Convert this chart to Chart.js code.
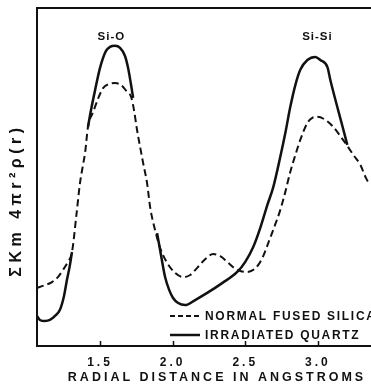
<!DOCTYPE html>
<html>
<head>
<meta charset="utf-8">
<script src="https://cdn.jsdelivr.net/npm/chart.js@4/dist/chart.umd.min.js"></script>
<style>
  html, body { margin: 0; padding: 0; background: #fff; }
  canvas { display: block; }
</style>
</head>
<body>
<canvas id="rdf" width="371" height="389"></canvas>
<script>
// radial distance (angstroms) and relative density
const fusedR = [1.066, 1.121, 1.169, 1.210, 1.245, 1.279, 1.307, 1.339, 1.362, 1.383, 1.397, 1.417, 1.452, 1.521, 1.562, 1.603, 1.645, 1.686, 1.714, 1.734, 1.755, 1.776, 1.797, 1.824, 1.845, 1.879, 1.914, 1.962, 2.017, 2.072, 2.121, 2.169, 2.224, 2.279, 2.328, 2.376, 2.424, 2.466, 2.514, 2.555, 2.590, 2.624, 2.659, 2.700, 2.741, 2.776, 2.810, 2.845, 2.879, 2.928, 2.962, 2.997, 3.052, 3.107, 3.155, 3.203, 3.245, 3.293, 3.328, 3.348, 3.369];
const fusedV = [17.2, 18.0, 18.9, 20.4, 22.5, 24.9, 27.8, 39.4, 48.2, 53.6, 57.1, 64.8, 69.2, 76.3, 77.5, 77.8, 77.2, 75.2, 73.7, 69.8, 63.9, 58.9, 54.1, 48.2, 41.1, 34.3, 29.0, 24.6, 21.6, 20.4, 21.0, 23.1, 25.7, 27.2, 26.6, 24.9, 23.1, 22.2, 21.9, 22.5, 24.0, 26.6, 30.5, 35.2, 40.2, 45.6, 51.5, 56.5, 61.0, 66.0, 67.5, 67.8, 66.9, 64.8, 62.1, 59.2, 56.5, 53.6, 50.0, 48.5, 48.2];

// irradiated quartz; null where it runs under the dashed curve
const quartzR = [1.066, 1.086, 1.121, 1.155, 1.190, 1.224, 1.252, 1.272, 1.293, 1.307, 1.36, 1.417, 1.438, 1.466, 1.500, 1.541, 1.569, 1.603, 1.638, 1.672, 1.693, 1.714, 1.728, 1.81, 1.893, 1.921, 1.948, 1.976, 2.003, 2.038, 2.086, 2.155, 2.238, 2.341, 2.445, 2.500, 2.555, 2.603, 2.652, 2.693, 2.741, 2.776, 2.810, 2.845, 2.879, 2.928, 2.983, 3.017, 3.066, 3.086, 3.134, 3.169, 3.203];
const quartzV = [8.9, 7.7, 7.4, 7.7, 8.9, 10.7, 14.8, 19.5, 24.0, 27.8, null, 64.8, 69.8, 75.7, 82.3, 87.3, 88.5, 88.8, 88.2, 85.8, 82.3, 77.2, 73.4, null, 33.4, 26.6, 20.4, 16.6, 14.2, 12.7, 12.1, 13.6, 15.7, 18.6, 21.9, 24.9, 29.3, 34.9, 41.7, 47.0, 55.9, 63.0, 70.7, 77.2, 81.7, 84.6, 85.5, 84.6, 82.5, 78.7, 70.7, 65.1, 59.5];

const tickValues = [1.5, 2.0, 2.5, 3.0];
const peakNames = ['Si-O', 'Si-Si'];
const peakAt = [1.578, 2.997];
const xTitle = 'RADIAL DISTANCE IN ANGSTROMS';
const yTitle = '\u03A3Km 4\u03C0r\u00B2\u03C1(r)';

const ink = '#111';
const toPoints = (xs, ys) => xs.map((x, i) => ({ x: x, y: ys[i] }));

// peak names, inner tick marks, legend and axis titles
const decorations = {
  id: 'decorations',
  beforeDraw(chart) {
    chart.ctx.letterSpacing = '3px';
  },
  afterDraw(chart) {
    const ctx = chart.ctx;
    const xs = chart.scales.x;
    const area = chart.chartArea;
    ctx.save();
    ctx.fillStyle = ink;
    ctx.strokeStyle = ink;

    // tick marks point up into the plot
    ctx.lineWidth = 1.5;
    tickValues.forEach(v => {
      const px = Math.round(xs.getPixelForValue(v)) + 0.5;
      ctx.beginPath();
      ctx.moveTo(px, area.bottom);
      ctx.lineTo(px, area.bottom - 5);
      ctx.stroke();
    });

    ctx.textAlign = 'center';
    ctx.textBaseline = 'middle';

    ctx.letterSpacing = '3px';
    ctx.font = 'bold 12.5px "Liberation Sans"';
    ctx.fillText(xTitle, 217, 378);

    ctx.letterSpacing = '1px';
    ctx.font = 'bold 11.5px "Liberation Sans"';
    peakNames.forEach((name, i) => {
      ctx.fillText(name, xs.getPixelForValue(peakAt[i]), 37);
    });

    // legend in the lower right corner
    ctx.letterSpacing = '1.7px';
    ctx.font = 'bold 12px "Liberation Sans"';
    ctx.textAlign = 'left';
    const rows = [chart.data.datasets[1], chart.data.datasets[0]];
    rows.forEach((ds, i) => {
      const y = 316 + i * 19;
      ctx.lineWidth = ds.borderWidth;
      ctx.setLineDash(ds.borderDash && ds.borderDash.length ? [5, 3] : []);
      ctx.beginPath();
      ctx.moveTo(170, y);
      ctx.lineTo(200, y);
      ctx.stroke();
      ctx.setLineDash([]);
      ctx.fillText(ds.label, 205, y + 1);
    });

    // rotated y title
    ctx.translate(17, 200);
    ctx.rotate(-Math.PI / 2);
    ctx.letterSpacing = '4.5px';
    ctx.font = 'bold 16px "Liberation Sans"';
    ctx.textAlign = 'center';
    ctx.fillText(yTitle, 0, 0);
    ctx.restore();
  }
};

new Chart(document.getElementById('rdf'), {
  type: 'line',
  data: {
    datasets: [
      {
        label: 'IRRADIATED QUARTZ',
        data: toPoints(quartzR, quartzV),
        borderColor: ink,
        borderWidth: 2.5,
        pointRadius: 0,
        cubicInterpolationMode: 'monotone',
        spanGaps: false,
        order: 0
      },
      {
        label: 'NORMAL FUSED SILICA',
        data: toPoints(fusedR, fusedV),
        borderColor: ink,
        borderWidth: 2,
        borderDash: [7, 4],
        pointRadius: 0,
        cubicInterpolationMode: 'monotone',
        order: 1
      }
    ]
  },
  options: {
    responsive: false,
    animation: false,
    devicePixelRatio: 1,
    layout: { padding: 0 },
    plugins: {
      legend: { display: false },
      tooltip: { enabled: false }
    },
    scales: {
      x: {
        type: 'linear',
        position: 'bottom',
        min: 1.066,
        max: 3.366,
        afterBuildTicks: s => { s.ticks = tickValues.map(v => ({ value: v })); },
        afterFit: s => { s.height = 43; },
        grid: { display: false, drawTicks: false },
        border: { display: true, color: ink, width: 2 },
        ticks: {
          padding: 9,
          color: ink,
          font: { family: 'Liberation Sans', size: 12, weight: 'bold' },
          callback: v => Number(v).toFixed(1)
        }
      },
      top: {
        type: 'linear',
        position: 'top',
        min: 1.066,
        max: 3.366,
        afterFit: s => { s.height = 8; },
        grid: { display: false, drawTicks: false },
        border: { display: true, color: ink, width: 2 },
        ticks: { display: false }
      },
      y: {
        type: 'linear',
        min: 0,
        max: 100,
        afterFit: s => { s.width = 37; },
        grid: { display: false, drawTicks: false },
        border: { display: true, color: ink, width: 2 },
        ticks: { display: false }
      }
    }
  },
  plugins: [decorations]
});
</script>
</body>
</html>
